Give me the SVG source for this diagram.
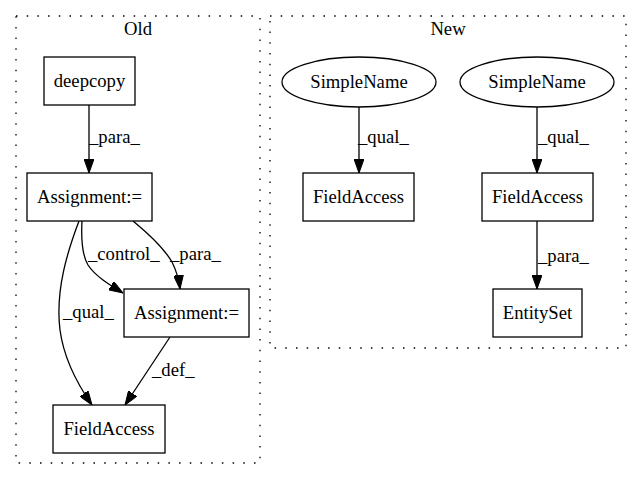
<svg xmlns="http://www.w3.org/2000/svg" width="641" height="480" viewBox="0 0 641 480">
<defs>
<style>
text{font-family:"Liberation Serif","Times New Roman",serif;font-size:18.67px;fill:#000}
.c{text-anchor:middle}
.n{fill:#fff;stroke:#000;stroke-width:1.3}
.cl{fill:none;stroke:#000;stroke-width:1.3;stroke-dasharray:1.5,9.2}
.e{fill:none;stroke:#000;stroke-width:1.3}
</style>
<marker id="a" viewBox="0 0 14 10" refX="14" refY="5" markerWidth="14" markerHeight="10" markerUnits="userSpaceOnUse" orient="auto">
<path d="M0,0L14,5L0,10z" fill="#000" stroke="#000"/>
</marker>
</defs>
<rect width="641" height="480" fill="#fff"/>
<g id="clusters">
<rect class="cl" x="16" y="16" width="244" height="447"/>
<text class="c" x="138" y="35">Old</text>
<rect class="cl" x="270" y="16" width="356" height="332"/>
<text class="c" x="448" y="35">New</text>
</g>
<g id="edges">
<path class="e" marker-end="url(#a)" d="M89,105L89,173"/>
<text x="89" y="143">_para_</text>
<path class="e" marker-end="url(#a)" d="M79,221C68,250 55,290 60,330C64,360 78,385 92,405"/>
<text x="63" y="318">_qual_</text>
<path class="e" marker-end="url(#a)" d="M82,221C81,240 82,255 88,265C95,276 110,285 123,293"/>
<text x="88" y="260">_control_</text>
<path class="e" marker-end="url(#a)" d="M133,221C150,235 165,250 172,262C176,270 179,280 180,289"/>
<text x="170" y="260">_para_</text>
<path class="e" marker-end="url(#a)" d="M170,337L125,405"/>
<text x="152" y="376">_def_</text>
<path class="e" marker-end="url(#a)" d="M359,107L359,173"/>
<text x="358" y="143">_qual_</text>
<path class="e" marker-end="url(#a)" d="M537,107L537,173"/>
<text x="538" y="143">_qual_</text>
<path class="e" marker-end="url(#a)" d="M537,221L537,289"/>
<text x="538" y="262">_para_</text>
</g>
<g id="deepcopy"><rect class="n" x="44" y="57" width="91" height="48"/><text class="c" x="89.5" y="87">deepcopy</text></g>
<g id="assign1"><rect class="n" x="27" y="173" width="125" height="48"/><text class="c" x="89.5" y="203">Assignment:=</text></g>
<g id="assign2"><rect class="n" x="124" y="289" width="125" height="48"/><text class="c" x="186.5" y="319">Assignment:=</text></g>
<g id="fieldaccess_old"><rect class="n" x="53" y="405" width="112" height="48"/><text class="c" x="109" y="435">FieldAccess</text></g>
<g id="simplename1"><ellipse class="n" cx="359" cy="82" rx="77" ry="25"/><text class="c" x="359" y="88">SimpleName</text></g>
<g id="simplename2"><ellipse class="n" cx="537" cy="82" rx="77" ry="25"/><text class="c" x="537" y="88">SimpleName</text></g>
<g id="fieldaccess1"><rect class="n" x="303" y="173" width="111" height="48"/><text class="c" x="358.5" y="203">FieldAccess</text></g>
<g id="fieldaccess2"><rect class="n" x="482" y="173" width="111" height="48"/><text class="c" x="537.5" y="203">FieldAccess</text></g>
<g id="entityset"><rect class="n" x="493" y="289" width="89" height="48"/><text class="c" x="537.5" y="319">EntitySet</text></g>
</svg>
